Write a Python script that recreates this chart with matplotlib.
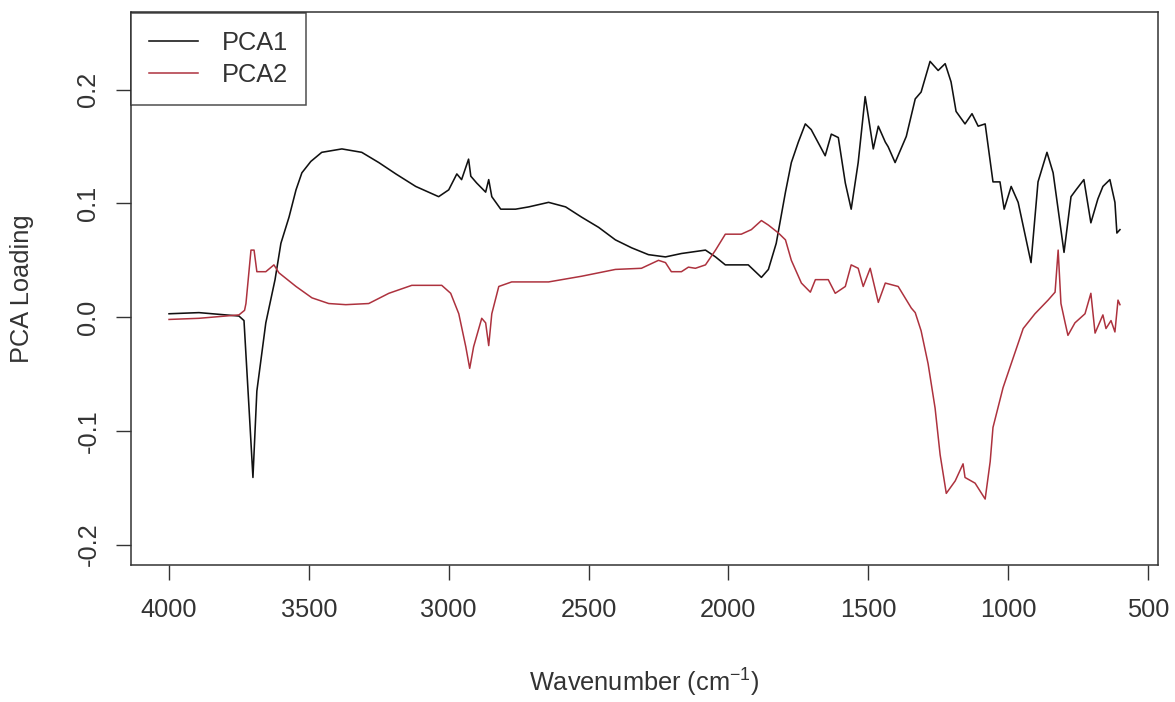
import numpy as np
import matplotlib.pyplot as plt

plt.rcParams['font.family'] = ['Liberation Sans', 'DejaVu Sans']
plt.rcParams['mathtext.default'] = 'regular'

# loadings (wavenumber in cm^-1)
wn_pca1 = [4000, 3893, 3750, 3732, 3714, 3700, 3686, 3654, 3621, 3600, 3571, 3546, 3525,
           3493, 3454, 3382, 3311, 3250, 3189, 3118, 3036, 3000, 2971, 2954, 2929, 2921,
           2900, 2868, 2857, 2846, 2814, 2761, 2714, 2643, 2582, 2525, 2464, 2404, 2346,
           2286, 2225, 2168, 2082, 2046, 2011, 1929, 1882, 1857, 1829, 1796, 1775, 1750,
           1725, 1704, 1654, 1632, 1607, 1582, 1561, 1536, 1511, 1500, 1482, 1464, 1439,
           1429, 1404, 1364, 1332, 1311, 1279, 1250, 1225, 1204, 1186, 1154, 1129, 1107,
           1082, 1054, 1029, 1014, 989, 964, 918, 893, 861, 839, 800, 775, 757, 729, 704,
           679, 661, 636, 618, 611, 600]
pca1 = [0.003, 0.004, 0.001, -0.003, -0.080, -0.141, -0.065, -0.005, 0.033, 0.065, 0.088,
        0.112, 0.127, 0.137, 0.145, 0.148, 0.145, 0.136, 0.126, 0.115, 0.106, 0.112, 0.126,
        0.121, 0.139, 0.124, 0.118, 0.110, 0.121, 0.106, 0.095, 0.095, 0.097, 0.101, 0.097,
        0.088, 0.079, 0.068, 0.061, 0.055, 0.053, 0.056, 0.059, 0.053, 0.046, 0.046, 0.035,
        0.042, 0.065, 0.110, 0.136, 0.154, 0.170, 0.165, 0.142, 0.161, 0.158, 0.118, 0.095,
        0.136, 0.194, 0.177, 0.148, 0.168, 0.154, 0.150, 0.136, 0.159, 0.192, 0.198, 0.225,
        0.217, 0.223, 0.207, 0.181, 0.170, 0.179, 0.168, 0.170, 0.119, 0.119, 0.095, 0.115,
        0.101, 0.048, 0.119, 0.145, 0.127, 0.057, 0.106, 0.112, 0.121, 0.083, 0.104, 0.115,
        0.121, 0.101, 0.074, 0.077]

wn_pca2 = [4000, 3893, 3750, 3730, 3725, 3707, 3696, 3686, 3654, 3625, 3607, 3546, 3489,
           3429, 3368, 3286, 3214, 3132, 3025, 2993, 2964, 2939, 2925, 2911, 2882, 2868,
           2857, 2846, 2821, 2775, 2643, 2525, 2404, 2311, 2250, 2225, 2204, 2168, 2143,
           2118, 2082, 2046, 2011, 1954, 1918, 1882, 1857, 1821, 1796, 1775, 1739, 1707,
           1689, 1643, 1618, 1582, 1561, 1536, 1518, 1493, 1464, 1439, 1393, 1346, 1332,
           1311, 1286, 1261, 1243, 1221, 1189, 1161, 1154, 1118, 1082, 1064, 1054, 1018,
           989, 946, 904, 857, 832, 821, 811, 796, 786, 761, 725, 704, 689, 661, 650, 632,
           618, 607, 600]
pca2 = [-0.002, -0.001, 0.002, 0.006, 0.012, 0.059, 0.059, 0.040, 0.040, 0.046, 0.039,
        0.027, 0.017, 0.012, 0.011, 0.012, 0.021, 0.028, 0.028, 0.021, 0.003, -0.026,
        -0.045, -0.026, -0.001, -0.005, -0.025, 0.003, 0.027, 0.031, 0.031, 0.036, 0.042,
        0.043, 0.050, 0.048, 0.040, 0.040, 0.044, 0.043, 0.046, 0.059, 0.073, 0.073, 0.077,
        0.085, 0.081, 0.074, 0.068, 0.050, 0.030, 0.022, 0.033, 0.033, 0.021, 0.027, 0.046,
        0.043, 0.027, 0.043, 0.013, 0.030, 0.027, 0.008, 0.004, -0.012, -0.041, -0.080,
        -0.121, -0.155, -0.144, -0.129, -0.141, -0.146, -0.160, -0.127, -0.097, -0.062,
        -0.041, -0.010, 0.003, 0.015, 0.022, 0.059, 0.012, -0.005, -0.016, -0.005, 0.003,
        0.021, -0.014, 0.002, -0.010, -0.003, -0.013, 0.015, 0.011]

xticks = [4000, 3500, 3000, 2500, 2000, 1500, 1000, 500]
yticks = [-0.2, -0.1, 0.0, 0.1, 0.2]

fs = 18.3

fig = plt.figure(figsize=(11.75, 7.02), dpi=100)
ax = fig.add_axes([131/1175, 1 - 565/702, 1027/1175, 552.5/702])

ax.plot(wn_pca1, pca1, color='#111111', lw=1.15, label='PCA1')
ax.plot(wn_pca2, pca2, color='#ad323e', lw=1.1, label='PCA2')

ax.set_xlim(4136, 464)
ax.set_ylim(-0.218, 0.268)
ax.set_xticks(xticks)
ax.set_xticklabels([str(t) for t in xticks])
ax.set_yticks(yticks)
ax.set_yticklabels(['-0.2', '-0.1', '0.0', '0.1', '0.2'], rotation=90, va='center')

for sp in ax.spines.values():
    sp.set_linewidth(1.1)
    sp.set_color('#333333')
ax.tick_params(axis='both', direction='out', length=11, width=1.0, color='#333333',
               labelsize=fs, labelcolor='#333333')
ax.tick_params(axis='x', pad=13)
ax.tick_params(axis='y', pad=11)

ax.set_xlabel(r'Wavenumber (cm$^{-1}$)', fontsize=fs, color='#333333', va='center')
ax.xaxis.set_label_coords(0.5, -(683 - 565) / 552.5)
ax.set_ylabel('PCA Loading', fontsize=fs, color='#333333', va='center')
ax.yaxis.set_label_coords(-(131 - 22) / 1027, 0.5)

leg = ax.legend(loc='upper left', bbox_to_anchor=(0, 1), borderaxespad=0, fontsize=fs,
                frameon=True, fancybox=False, edgecolor='#222222', handlelength=1.9,
                handletextpad=0.95, labelspacing=0.32, borderpad=0.72)
leg.get_frame().set_linewidth(1.1)
for t in leg.get_texts():
    t.set_color('#333333')

fig.savefig('out.png', dpi=100)
